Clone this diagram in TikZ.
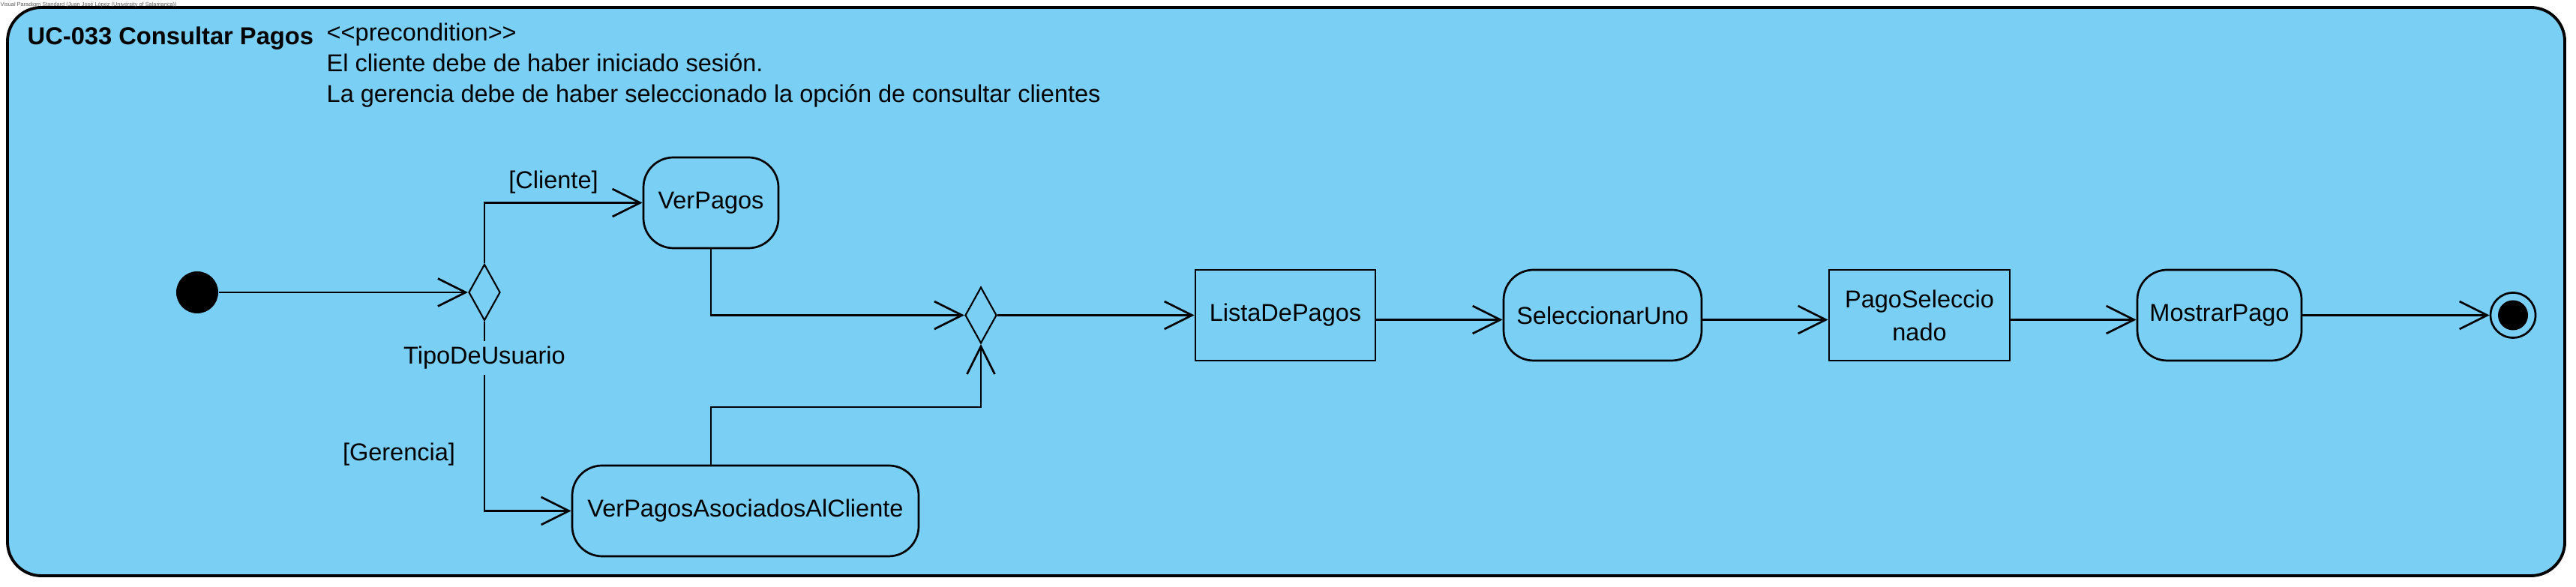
\documentclass[tikz,border=0pt]{standalone}
\usepackage{fontspec}
\setmainfont{Liberation Sans}
\usepackage{tikz}
\usetikzlibrary{arrows.meta,shapes.geometric}
\definecolor{ucblue}{RGB}{122,207,244}

\begin{document}
\begin{tikzpicture}[
  every node/.style={font=\fontsize{9.25}{12.5}\selectfont},
  act/.style={draw,line width=0.77pt,rounded corners=0.4cm,minimum height=1.21cm,inner sep=0},
  obj/.style={draw,line width=0.77pt,minimum height=1.21cm,inner sep=0,align=center},
  choice/.style={draw,diamond,line width=0.6pt,minimum width=0.42cm,minimum height=0.75cm,inner sep=0},
  flow/.style={-{Straight Barb[length=0.37cm,width=0.37cm]},line width=0.77pt},
  guard/.style={inner sep=0}]

\useasboundingbox (0,0) rectangle (34.35,7.83);
\draw[fill=ucblue,line width=1.1pt,rounded corners=0.45cm] (0.10,0.15) rectangle (34.20,7.73);
\node[anchor=base west,inner sep=0,black!65,font=\fontsize{2.1}{2.5}\selectfont] (stamp) at (0,7.74) {Visual Paradigm Standard (Juan José López (University of Salamanca))};

\node[anchor=base west,inner sep=0,font=\bfseries\fontsize{9.3}{11}\selectfont] (title) at (0.36,7.23) {UC-033 Consultar Pagos};
\node[anchor=base west,inner sep=0] (prec) at (4.35,7.28) {<{}<precondition>{}>};
\node[anchor=base west,inner sep=0] (cond1) at (4.35,6.87) {El cliente debe de haber iniciado sesión.};
\node[anchor=base west,inner sep=0] (cond2) at (4.35,6.46) {La gerencia debe de haber seleccionado la opción de consultar clientes};

\node[circle,fill,minimum size=0.56cm,inner sep=0] (start) at (2.63,3.93) {};
\node[choice] (tipo) at (6.46,3.93) {};
\node[inner xsep=0,inner ysep=0.07cm] (tipolbl) at (6.46,3.055) {TipoDeUsuario};
\node[act,minimum width=1.80cm] (vp) at (9.48,5.125) {VerPagos};
\node[act,minimum width=4.62cm] (vpac) at (9.94,1.015) {VerPagosAsociadosAlCliente};
\node[guard] (cli) at (7.38,5.40) {[Cliente]};
\node[guard] (ger) at (5.32,1.77) {[Gerencia]};

\node[choice] (merge) at (13.08,3.625) {};
\node[obj,minimum width=2.40cm] (lista) at (17.14,3.625) {ListaDePagos};
\node[act,minimum width=2.64cm] (sel) at (21.37,3.625) {SeleccionarUno};
\node[obj,minimum width=2.41cm] (pagosel) at (25.595,3.625) {PagoSeleccio\\nado};
\node[act,minimum width=2.19cm] (mostrar) at (29.595,3.625) {MostrarPago};
\node[circle,draw,line width=0.77pt,minimum size=0.60cm,inner sep=0] (fin) at (33.51,3.625) {};
\node[circle,fill,minimum size=0.40cm,inner sep=0] (fincore) at (fin) {};

\draw[flow] (start) -- (tipo.west);
\draw[flow] (tipo.north) |- (vp.west);
\draw[line width=0.77pt] (tipo.south) -- (tipolbl.north);
\draw[flow] (tipolbl.south) |- (vpac.west);
\draw[flow] (vp.south) |- (merge.west);
\coordinate (join) at (13.08,2.40);
\draw[flow] (vpac.north -| vp.south) |- (join) -- (merge.south);

\draw[flow] (merge.east) -- (lista.west);
\draw[flow] ([yshift=-0.06cm]lista.east) -- ([yshift=-0.06cm]sel.west);
\draw[flow] ([yshift=-0.06cm]sel.east) -- ([yshift=-0.06cm]pagosel.west);
\draw[flow] ([yshift=-0.06cm]pagosel.east) -- ([yshift=-0.06cm]mostrar.west);
\draw[flow] (mostrar.east) -- (fin.west);

\end{tikzpicture}
\end{document}
